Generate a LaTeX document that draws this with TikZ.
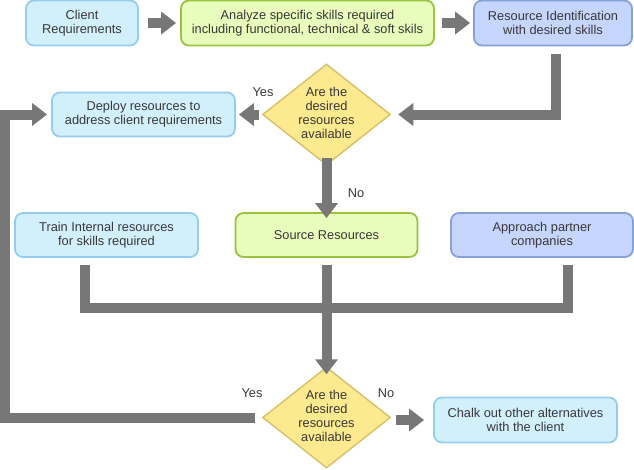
\documentclass[tikz,border=0pt]{standalone}
\usepackage{fontspec}
\setmainfont{Liberation Sans}
\usetikzlibrary{shapes.geometric,arrows.meta}
\definecolor{lbfill}{HTML}{D2EFFC}
\definecolor{lbdraw}{HTML}{94CEEC}
\definecolor{grfill}{HTML}{E8FCBB}
\definecolor{grdraw}{HTML}{9AC43F}
\definecolor{pbfill}{HTML}{C5D5FC}
\definecolor{pbdraw}{HTML}{86A1DA}
\definecolor{dmfill}{HTML}{FDE98E}
\definecolor{dmdraw}{HTML}{D6C36C}
\definecolor{arr}{HTML}{777777}
\definecolor{txt}{HTML}{383838}
\tikzset{
  box/.style={rectangle, rounded corners=8pt, line width=1.8pt, align=center,
    text=txt, font=\fontsize{12.8}{14}\selectfont, inner sep=0pt},
  lblue/.style={box, fill=lbfill, draw=lbdraw},
  green/.style={box, fill=grfill, draw=grdraw},
  pblue/.style={box, fill=pbfill, draw=pbdraw},
  dia/.style={diamond, fill=dmfill, draw=dmdraw, line width=1.5pt, inner sep=0pt,
    minimum width=128pt, minimum height=101pt},
  dtext/.style={align=center, text=txt, font=\fontsize{12.8}{14}\selectfont, inner sep=0pt},
  lab/.style={text=txt, font=\fontsize{12.8}{14}\selectfont, inner sep=0pt},
  gline/.style={draw=arr, line width=10pt, line join=miter},
  garrow/.style={gline, -{Triangle[width=22pt,length=15pt]}}
}
\begin{document}
\begin{tikzpicture}[x=1pt,y=-1pt]
\useasboundingbox (0,0) rectangle (634,469);
% row 1
\node[lblue, minimum width=112pt, minimum height=45pt] (cr) at (82,23) {Client\\Requirements};
\node[green, minimum width=253pt, minimum height=45pt] (an) at (307.5,23) {Analyze specific skills required\\including functional, technical \& soft skils};
\node[pblue, minimum width=158pt, minimum height=45pt] (ri) at (553,23) {Resource Identification\\with desired skills};
% decision 1
\node[dia] (d1) at (326.5,114.5) {};
\node[dtext] (d1t) at (326.5,113) {Are the\\desired\\resources\\available};
\node[lblue, minimum width=183pt, minimum height=44pt] (dep) at (143.5,114.5) {Deploy resources to\\address client requirements};
% row 3
\node[lblue, minimum width=183pt, minimum height=44pt] (tr) at (106.5,235) {Train Internal resources\\for skills required};
\node[green, minimum width=182pt, minimum height=44pt] (so) at (326.5,235) {Source Resources};
\node[pblue, minimum width=182pt, minimum height=44pt] (ap) at (542,235) {Approach partner\\companies};
% decision 2
\node[dia] (d2) at (326.5,417.5) {};
\node[dtext] (d2t) at (326.5,416) {Are the\\desired\\resources\\available};
\node[lblue, minimum width=183pt, minimum height=45pt] (ch) at (525.5,420) {Chalk out other alternatives\\with the client};
% labels
\node[lab] (y1) at (263,92) {Yes};
\node[lab] (n1) at (356,193) {No};
\node[lab] (y2) at (252,393) {Yes};
\node[lab] (n2) at (386,393) {No};
% coordinates
\coordinate (j) at (326.5,308);
\coordinate (loopx) at (5,0);
% connectors
\draw[garrow] ([xshift=9pt]cr.east) -- ([xshift=-4pt]an.west);
\draw[garrow] ([xshift=7pt]an.east) -- ([xshift=-3pt]ri.west);
\draw[garrow] ([xshift=3pt,yshift=-8pt]ri.south) |- ([xshift=7pt]d1.east);
\draw[garrow] ([xshift=-3pt]d1.west) -- ([xshift=3pt]dep.east);
\draw[garrow] ([yshift=8pt]d1.south) -- ([yshift=-6pt]so.north);
\draw[gline] ([xshift=-22pt,yshift=-7pt]tr.south) |- (j) -| ([xshift=26pt,yshift=-7pt]ap.south);
\draw[garrow] ([yshift=-7pt]so.south) -- ([yshift=-8pt]d2.north);
\draw[garrow] ([xshift=-7pt]d2.west) -- (d2.west -| loopx) |- ([xshift=-4pt]dep.west);
\draw[garrow] ([xshift=5pt]d2.east |- ch.west) -- ([xshift=-9pt]ch.west);
\end{tikzpicture}
\end{document}
